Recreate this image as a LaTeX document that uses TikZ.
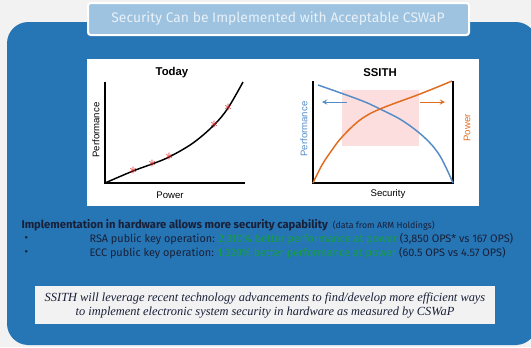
\documentclass[tikz,border=0pt]{standalone}
\usepackage{fontspec}
\setmainfont{Liberation Sans}
\newfontfamily\headfont{Fira Sans}
\newfontfamily\quotefont{Liberation Serif}

\definecolor{pageback}{RGB}{242,242,242}
\definecolor{panelblue}{RGB}{38,117,181}
\definecolor{titleblue}{RGB}{157,195,224}
\definecolor{titletext}{RGB}{232,240,248}
\definecolor{darktext}{RGB}{24,32,56}
\definecolor{goodgreen}{RGB}{22,158,70}
\definecolor{perfblue}{RGB}{84,140,200}
\definecolor{powerorange}{RGB}{226,108,30}
\definecolor{zonepink}{RGB}{252,222,222}
\definecolor{markred}{RGB}{230,40,40}

\tikzset{every picture/.style={line width=0.75pt}}
\tikzset{
  axis/.style={line width=1.1pt, black},
  charttext/.style={font=\fontsize{7.2}{8}\selectfont, inner sep=0pt},
  charttitle/.style={font=\bfseries\fontsize{8.5}{10}\selectfont, inner sep=0pt},
  bodytext/.style={font=\headfont\fontsize{8.15}{9}\selectfont, text=darktext, inner sep=0pt, anchor=west},
  starmark/.style={text=markred, font=\bfseries\fontsize{12}{12}\selectfont, inner sep=0pt}
}

\begin{document}
\begin{tikzpicture}[x=0.75pt,y=0.75pt,yscale=-1,xscale=1]
	\useasboundingbox (0,0) rectangle (531,347);
	\clip (0,0) rectangle (531,347);

	%Shape: Rectangle [page]
	\fill [pageback] (0,0) rectangle (531,347);
	%Shape: Rounded Rectangle [blue panel]
	\fill [panelblue, rounded corners=16] (7,22) rectangle (537,345);
	%Shape: Rectangle [title box]
	\draw [white, fill=titleblue, line width=1.5pt, rounded corners=2] (88,3) rectangle (469,35);
	% Text Node
	\node [font=\headfont\fontsize{10.4}{12}\selectfont, text=titletext] (title) at (278,19) {Security Can be Implemented with Acceptable CSWaP};

	%Shape: Rectangle [chart panel]
	\fill [white] (87,59) rectangle (479,206);

	%Left chart: today
	\draw [axis] (105,82) -- (105,183) -- (245,183);
	\draw [line width=1.1pt] plot [smooth, tension=0.6] coordinates {(105,183) (133,171) (152,164) (169,157) (193,143) (214,125) (228,108) (243,82)};
	\foreach \px/\py [count=\i] in {133/171, 152/164, 169/157, 214/125, 228/108}
		\node [starmark] (star\i) at (\px,\py) {$\ast$};
	% Text Node
	\node [charttitle] (today) at (172,73) {Today};
	% Text Node
	\node [charttext, rotate=90] (perfA) at (96,130) {Performance};
	% Text Node
	\node [charttext] (powerA) at (170,195) {Power};

	%Right chart: SSITH
	\fill [zonepink] (342,90) rectangle (419,146);
	\draw [axis] (313,81) -- (313,183) -- (453,183) -- (453,81);
	\draw [perfblue, line width=1.1pt] plot [smooth, tension=0.6] coordinates {(318,85) (360,100) (380,109) (403,121) (425,138) (440,156) (453,183)};
	\draw [powerorange, line width=1.1pt] plot [smooth, tension=0.6] coordinates {(313,183) (322,165) (332,150) (342,137) (360,120) (380,109) (420,94) (452,81)};
	\coordinate (lefttail) at (347,102);
	\coordinate (lefthead) at (322,102);
	\coordinate (righttail) at (420,102);
	\coordinate (righthead) at (445,102);
	\draw [perfblue, -stealth] (lefttail) -- (lefthead);
	\draw [powerorange, -stealth] (righttail) -- (righthead);
	% Text Node
	\node [charttitle] (ssith) at (380,73) {SSITH};
	% Text Node
	\node [charttext, rotate=90, text=perfblue] (perfB) at (304,129) {Performance};
	% Text Node
	\node [charttext, rotate=90, text=powerorange] (powerB) at (467,128) {Power};
	% Text Node
	\node [charttext] (security) at (388,194) {Security};

	% Text Node
	\node [bodytext, font=\headfont\bfseries\fontsize{8.4}{10}\selectfont] (claim) at (21,225) {Implementation in hardware allows more security capability {\mdseries\fontsize{6.6}{8}\selectfont\ (data from ARM Holdings)}};
	% Text Node
	\node [bodytext] (dotA) at (24,239) {\textbullet};
	% Text Node
	\node [bodytext] (rsa) at (89,239) {RSA public key operation: \textcolor{goodgreen}{2,310\% better performance at power} (3,850 OPS* vs 167 OPS)};
	% Text Node
	\node [bodytext] (dotB) at (24,253) {\textbullet};
	% Text Node
	\node [bodytext] (ecc) at (89,253) {ECC public key operation: \textcolor{goodgreen}{1,320\% better performance at power} (60.5 OPS vs 4.57 OPS)};

	%Shape: Rectangle [quote box]
	\fill [pageback] (35,286) rectangle (495,324);
	% Text Node
	\node [font=\quotefont\itshape\fontsize{9.3}{10.4}\selectfont, align=center, text=darktext, inner sep=0pt] (quote) at (265,305.5) {SSITH will leverage recent technology advancements to find/develop more efficient ways\\ to implement electronic system security in hardware as measured by CSWaP};
\end{tikzpicture}
\end{document}
